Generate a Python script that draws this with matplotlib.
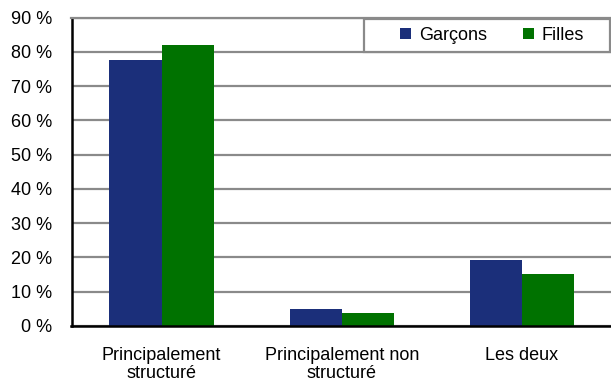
import matplotlib
matplotlib.use("Agg")
import matplotlib.pyplot as plt
import matplotlib.patches as mpatches
import numpy as np

categories = ["Principalement\nstructuré", "Principalement non\nstructuré", "Les deux"]
series_names = ["Garçons", "Filles"]
garcons = [77.6, 5.0, 19.3]
filles = [81.9, 3.9, 15.2]
yticks = [0, 10, 20, 30, 40, 50, 60, 70, 80, 90]
ytick_labels = [f"{v} %" for v in yticks]

colors = ["#1B2F7A", "#007200"]
W, H = 611, 381
plt.rcParams['font.family'] = ['Liberation Sans', 'DejaVu Sans']
FS = 13

fig = plt.figure(figsize=(W / 100, H / 100), dpi=100)
left, right, top, bottom = 71.5, 612, 17.5, 326
ax = fig.add_axes([left / W, 1 - bottom / H, (right - left) / W, (bottom - top) / H])

x = np.arange(len(categories))
bw = 0.29
b1 = ax.bar(x - bw / 2, garcons, bw, color=colors[0], label=series_names[0], zorder=2)
b2 = ax.bar(x + bw / 2, filles, bw, color=colors[1], label=series_names[1], zorder=2)

ax.set_xlim(-0.5, len(categories) - 0.5)
ax.set_ylim(0, 90)
ax.set_yticks(yticks)
ax.set_yticklabels(ytick_labels, fontsize=FS)
ax.set_xticks(x)
ax.set_xticklabels(categories, fontsize=FS, linespacing=1.1)
ax.tick_params(axis='y', length=0, pad=14)
ax.tick_params(axis='x', length=0, pad=15)
ax.set_axisbelow(True)
ax.yaxis.grid(True, color="#8a8a8a", linewidth=1.6)
for s in ["left", "bottom"]:
    ax.spines[s].set_color("black")
    ax.spines[s].set_linewidth(1.8)
ax.spines["top"].set_color("#8a8a8a")
ax.spines["top"].set_linewidth(1.6)
ax.spines["right"].set_visible(False)

# legend frame
frame = mpatches.Rectangle((364 / W, 1 - 52 / H), (610 - 364) / W, (52 - 19) / H,
                           transform=fig.transFigure, facecolor="white",
                           edgecolor="#8a8a8a", linewidth=1.6, zorder=3)
fig.patches.append(frame)
leg = fig.legend(handles=[b1, b2], loc="center", bbox_to_anchor=((364 + 610) / 2 / W + 0.008, 1 - 35.5 / H),
                 ncol=2, frameon=False, fontsize=FS, handlelength=0.6, handleheight=0.6,
                 handletextpad=0.45, columnspacing=2.0, borderpad=0)
leg.set_zorder(4)

fig.savefig("out.png", dpi=100)
